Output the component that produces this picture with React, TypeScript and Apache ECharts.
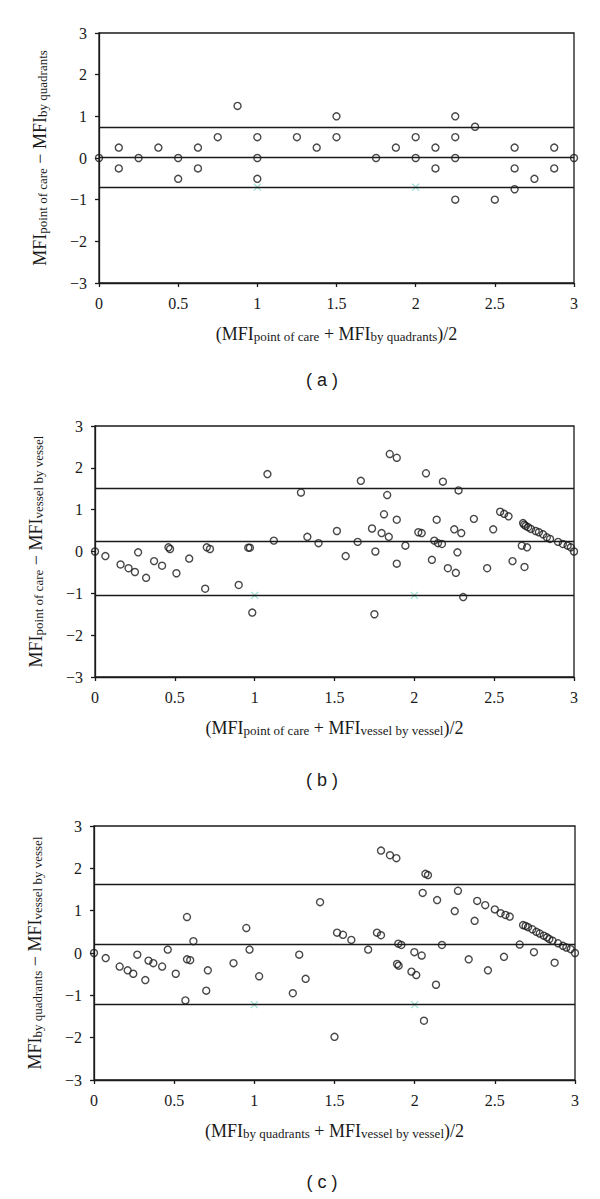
import React, { useEffect, useRef } from 'react';
import * as echarts from 'echarts';

// Panel (a): point of care vs by quadrants
const aMean = [0, 0.125, 0.125, 0.25, 0.375, 0.5, 0.5, 0.625, 0.625, 0.75, 0.875, 1, 1, 1, 1.25, 1.375, 1.5, 1.5, 1.75, 1.875, 2, 2, 2.125, 2.125, 2.25, 2.25, 2.25, 2.25, 2.375, 2.5, 2.625, 2.625, 2.625, 2.75, 2.875, 2.875, 3];
const aDiff = [0, 0.25, -0.25, 0, 0.25, 0, -0.5, 0.25, -0.25, 0.5, 1.25, 0.5, 0, -0.5, 0.5, 0.25, 1, 0.5, 0, 0.25, 0.5, 0, 0.25, -0.25, 1, 0.5, 0, -1, 0.75, -1, 0.25, -0.25, -0.75, -0.5, 0.25, -0.25, 0];
const aLimits = [0.74, 0.02, -0.7];

// Panel (b): point of care vs vessel by vessel
const bMean = [0, 0.065, 0.16, 0.21, 0.25, 0.27, 0.32, 0.37, 0.42, 0.46, 0.47, 0.51, 0.59, 0.69, 0.7, 0.72, 0.9, 0.96, 0.97, 0.985, 1.08, 1.12, 1.29, 1.33, 1.4, 1.515, 1.57, 1.645, 1.665, 1.735, 1.75, 1.756, 1.795, 1.81, 1.83, 1.84, 1.846, 1.89, 1.89, 1.89, 1.944, 2.025, 2.046, 2.073, 2.11, 2.125, 2.14, 2.148, 2.173, 2.179, 2.21, 2.25, 2.26, 2.27, 2.277, 2.294, 2.306, 2.373, 2.456, 2.494, 2.5375, 2.5625, 2.59, 2.615, 2.673, 2.69, 2.706, 2.681, 2.688, 2.698, 2.7125, 2.73, 2.76, 2.78, 2.806, 2.83, 2.85, 2.9, 2.93, 2.96, 2.98, 3];
const bDiff = [0, -0.11, -0.31, -0.4, -0.49, -0.02, -0.63, -0.23, -0.34, 0.1, 0.06, -0.52, -0.17, -0.89, 0.1, 0.06, -0.8, 0.09, 0.09, -1.46, 1.85, 0.26, 1.41, 0.35, 0.2, 0.49, -0.11, 0.23, 1.69, 0.55, -1.5, 0, 0.44, 0.89, 1.35, 0.35, 2.33, 2.24, 0.76, -0.29, 0.14, 0.46, 0.44, 1.87, -0.2, 0.26, 0.76, 0.2, 0.18, 1.67, -0.4, 0.53, -0.51, -0.02, 1.46, 0.44, -1.09, 0.78, -0.4, 0.53, 0.95, 0.9, 0.84, -0.23, 0.14, -0.37, 0.1, 0.68, 0.64, 0.61, 0.58, 0.54, 0.49, 0.46, 0.41, 0.34, 0.3, 0.23, 0.18, 0.14, 0.1, 0];
const bLimits = [1.51, 0.24, -1.05];

// Panel (c): by quadrants vs vessel by vessel
const cMean = [0, 0.073, 0.16, 0.21, 0.245, 0.27, 0.32, 0.34, 0.37, 0.425, 0.46, 0.51, 0.57, 0.58, 0.58, 0.6, 0.62, 0.7, 0.71, 0.87, 0.95, 0.97, 1.03, 1.24, 1.28, 1.32, 1.41, 1.5, 1.516, 1.553, 1.605, 1.71, 1.765, 1.79, 1.79, 1.846, 1.886, 1.89, 1.9, 1.898, 1.917, 1.98, 1.998, 2.01, 2.044, 2.05, 2.058, 2.067, 2.083, 2.133, 2.14, 2.17, 2.25, 2.27, 2.337, 2.374, 2.39, 2.44, 2.457, 2.5, 2.536, 2.557, 2.566, 2.593, 2.655, 2.744, 2.873, 2.676, 2.692, 2.707, 2.734, 2.759, 2.78, 2.805, 2.825, 2.84, 2.86, 2.894, 2.925, 2.946, 2.973, 3];
const cDiff = [0, -0.12, -0.32, -0.41, -0.49, -0.04, -0.64, -0.18, -0.24, -0.32, 0.08, -0.49, -1.12, 0.85, -0.15, -0.17, 0.28, -0.89, -0.41, -0.24, 0.59, 0.08, -0.55, -0.95, -0.04, -0.61, 1.2, -1.98, 0.48, 0.43, 0.31, 0.08, 0.48, 0.42, 2.42, 2.31, 2.24, -0.26, -0.3, 0.22, 0.19, -0.44, 0.02, -0.52, -0.06, 1.42, -1.6, 1.87, 1.84, -0.75, 1.25, 0.19, 0.99, 1.47, -0.15, 0.76, 1.23, 1.13, -0.41, 1.03, 0.94, -0.09, 0.9, 0.86, 0.2, 0.02, -0.23, 0.66, 0.64, 0.61, 0.56, 0.5, 0.46, 0.41, 0.37, 0.33, 0.29, 0.23, 0.17, 0.13, 0.09, 0];
const cLimits = [1.63, 0.21, -1.22];

// leftover cross markers sitting on the lower limit line
const crossMean = [1, 2];

const panelLabels = ['( a )', '( b )', '( c )'];
const yNames = [
  '{m|MFI}{s|point of care}{m| − MFI}{s|by quadrants}',
  '{m|MFI}{s|point of care}{m| − MFI}{s|vessel by vessel}',
  '{m|MFI}{s|by quadrants}{m| − MFI}{s|vessel by vessel}',
];
const xNames = [
  '{m|(MFI}{s|point of care}{m| + MFI}{s|by quadrants}{m|)/2}',
  '{m|(MFI}{s|point of care}{m| + MFI}{s|vessel by vessel}{m|)/2}',
  '{m|(MFI}{s|by quadrants}{m| + MFI}{s|vessel by vessel}{m|)/2}',
];

const SERIF = 'Liberation Serif';
const INK = '#1a1a1a';

export default function App() {
  const ref = useRef<HTMLDivElement>(null);
  useEffect(() => {
    const chart = echarts.init(ref.current!, null, { renderer: 'svg' });
    const grids = [
      { left: 99, top: 33, width: 475, height: 250 },
      { left: 95, top: 426, width: 479, height: 251 },
      { left: 94, top: 826, width: 481, height: 254 },
    ];
    const panels = [
      { x: aMean, y: aDiff, lim: aLimits },
      { x: bMean, y: bDiff, lim: bLimits },
      { x: cMean, y: cDiff, lim: cLimits },
    ];
    const rich = {
      m: { fontSize: 18, fontFamily: SERIF, color: INK, lineHeight: 18, verticalAlign: 'top' },
      s: { fontSize: 13, fontFamily: SERIF, color: INK, lineHeight: 13, verticalAlign: 'bottom', padding: [8, 0, 0, 0] },
    };
    const option: any = {
      animation: false,
      backgroundColor: '#ffffff',
      grid: grids.map((g) => ({ ...g, show: true, borderColor: INK, borderWidth: 1.3, backgroundColor: 'transparent' })),
      xAxis: grids.map((_, i) => ({
        type: 'value',
        gridIndex: i,
        min: 0,
        max: 3,
        interval: 0.5,
        name: xNames[i],
        nameLocation: 'middle',
        nameGap: 42,
        nameTextStyle: { rich },
        axisLine: { show: true, onZero: false, lineStyle: { color: INK, width: 1.3 } },
        axisTick: { show: true, inside: false, length: 4, lineStyle: { color: INK, width: 1.3 } },
        axisLabel: { fontFamily: SERIF, fontSize: 16, color: INK, margin: 12 },
        splitLine: { show: false },
      })),
      yAxis: grids.map((_, i) => ({
        type: 'value',
        gridIndex: i,
        min: -3,
        max: 3,
        interval: 1,
        name: yNames[i],
        nameLocation: 'middle',
        nameGap: 50,
        nameTextStyle: { rich },
        axisLine: { show: true, onZero: false, lineStyle: { color: INK, width: 1.3 } },
        axisTick: { show: true, inside: false, length: 4, lineStyle: { color: INK, width: 1.3 } },
        axisLabel: {
          fontFamily: SERIF,
          fontSize: 16,
          color: INK,
          margin: 12,
          formatter: (v: number) => (v < 0 ? '\u2212' + Math.abs(v) : String(v)),
        },
        splitLine: { show: false },
      })),
      series: [
        ...panels.map((p, i) => ({
          type: 'scatter',
          xAxisIndex: i,
          yAxisIndex: i,
          data: p.x.map((x, k) => [x, p.y[k]]),
          symbol: 'circle',
          symbolSize: 7,
          itemStyle: { color: 'rgba(0,0,0,0)', borderColor: INK, borderWidth: 1.4 },
          markLine: {
            silent: true,
            symbol: 'none',
            label: { show: false },
            lineStyle: { color: INK, width: 1.3, type: 'solid' },
            data: p.lim.map((v) => ({ yAxis: v })),
          },
          z: 3,
        })),
        ...panels.map((p, i) => ({
          type: 'scatter',
          xAxisIndex: i,
          yAxisIndex: i,
          data: crossMean.map((x) => [x, p.lim[2]]),
          symbol: 'path://M0,0L10,10M10,0L0,10',
          symbolSize: 7,
          itemStyle: { color: 'rgba(0,0,0,0)', borderColor: '#80d8c8', borderWidth: 1.2 },
          z: 4,
        })),
      ],
      graphic: panelLabels.map((t, i) => ({
        type: 'text',
        x: 322,
        y: [380, 780, 1182][i],
        style: {
          text: t,
          font: '18px "Liberation Sans"',
          fill: INK,
          textAlign: 'center',
          textVerticalAlign: 'middle',
        },
      })),
    };
    chart.setOption(option);
    return () => chart.dispose();
  }, []);
  return <div ref={ref} style={{ position: 'absolute', left: 0, top: 0, width: 600, height: 1199 }} />;
}
